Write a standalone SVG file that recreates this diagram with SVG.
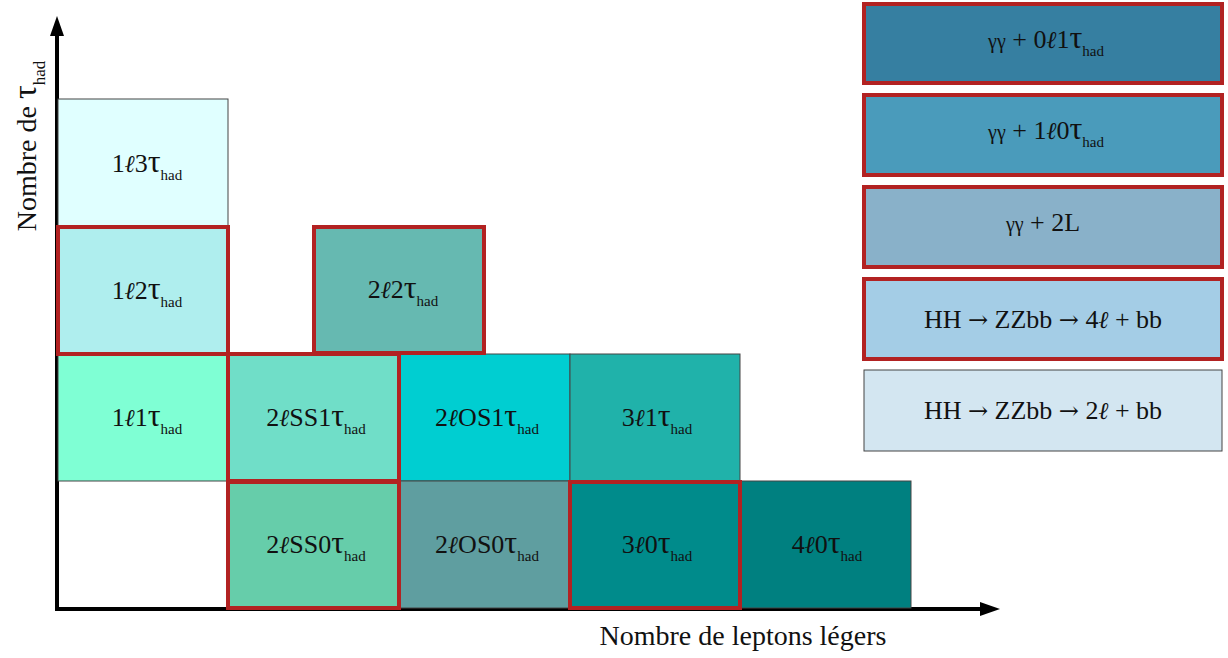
<svg xmlns="http://www.w3.org/2000/svg" width="1228" height="658" viewBox="0 0 1228 658">
<style>
text{font-family:"Liberation Serif","Times New Roman",serif;fill:#111;}
.lbl{font-size:26px;text-anchor:middle;}
.sub{font-size:15px;}
.t{font-size:32px;}
.l{font-family:"DejaVu Serif",serif;font-style:italic;font-size:24px;}
.ar{font-family:"DejaVu Serif",serif;font-size:24px;}
.gg{font-size:20px;}
.cell{stroke:#444;stroke-width:1;}
.red{stroke:#b22222;stroke-width:4;}
.ax{stroke:#000;stroke-width:4;fill:none;}
</style>
<defs>
<marker id="arr" markerWidth="20" markerHeight="14" refX="2" refY="7" orient="auto" markerUnits="userSpaceOnUse">
<path d="M0,0 L20,7 L0,14 Z" fill="#000"/>
</marker>
</defs>
<rect width="1228" height="658" fill="#fff"/>

<g id="axes">
<path class="ax" d="M57,610 L57,34" marker-end="url(#arr)"/>
<path class="ax" d="M55,609 L982,609" marker-end="url(#arr)"/>
</g>

<g id="c_1l3t"><rect class="cell" x="58" y="99" width="170" height="128" fill="#e0ffff"/><text class="lbl" x="147" y="172">1<tspan class="l">ℓ</tspan>3<tspan class="t">τ</tspan><tspan class="sub" dy="8">had</tspan></text></g>
<g id="c_1l1t"><rect class="cell" x="58" y="354" width="170" height="127" fill="#7fffd4"/><text class="lbl" x="147" y="426">1<tspan class="l">ℓ</tspan>1<tspan class="t">τ</tspan><tspan class="sub" dy="8">had</tspan></text></g>
<g id="c_2lOS1t"><rect class="cell" x="399" y="354" width="171" height="127" fill="#00ced1"/><text class="lbl" x="487" y="426">2<tspan class="l">ℓ</tspan>OS1<tspan class="t">τ</tspan><tspan class="sub" dy="8">had</tspan></text></g>
<g id="c_3l1t"><rect class="cell" x="570" y="354" width="170" height="127" fill="#20b2aa"/><text class="lbl" x="657" y="426">3<tspan class="l">ℓ</tspan>1<tspan class="t">τ</tspan><tspan class="sub" dy="8">had</tspan></text></g>
<g id="c_2lOS0t"><rect class="cell" x="399" y="481" width="171" height="127" fill="#5f9ea0"/><text class="lbl" x="487" y="553">2<tspan class="l">ℓ</tspan>OS0<tspan class="t">τ</tspan><tspan class="sub" dy="8">had</tspan></text></g>
<g id="c_4l0t"><rect class="cell" x="740" y="481" width="171" height="127" fill="#008080"/><text class="lbl" x="827" y="553">4<tspan class="l">ℓ</tspan>0<tspan class="t">τ</tspan><tspan class="sub" dy="8">had</tspan></text></g>

<g id="c_1l2t"><rect class="red" x="58" y="227" width="170" height="127" fill="#afeeee"/><text class="lbl" x="147" y="299">1<tspan class="l">ℓ</tspan>2<tspan class="t">τ</tspan><tspan class="sub" dy="8">had</tspan></text></g>
<g id="c_2l2t"><rect class="red" x="314" y="227" width="170" height="126" fill="#66b9b1"/><text class="lbl" x="403" y="298">2<tspan class="l">ℓ</tspan>2<tspan class="t">τ</tspan><tspan class="sub" dy="8">had</tspan></text></g>
<g id="c_2lSS1t"><rect class="red" x="228" y="354" width="171" height="127" fill="#70dec8"/><text class="lbl" x="316" y="426">2<tspan class="l">ℓ</tspan>SS1<tspan class="t">τ</tspan><tspan class="sub" dy="8">had</tspan></text></g>
<g id="c_2lSS0t"><rect class="red" x="228" y="482" width="171" height="126" fill="#66cdaa"/><text class="lbl" x="316" y="553">2<tspan class="l">ℓ</tspan>SS0<tspan class="t">τ</tspan><tspan class="sub" dy="8">had</tspan></text></g>
<g id="c_3l0t"><rect class="red" x="570" y="482" width="170" height="126" fill="#008b8b"/><text class="lbl" x="657" y="553">3<tspan class="l">ℓ</tspan>0<tspan class="t">τ</tspan><tspan class="sub" dy="8">had</tspan></text></g>

<g id="leg1"><rect class="red" x="864" y="4" width="358" height="79" fill="#367fa1"/><text class="lbl" x="1046" y="48"><tspan class="gg">γγ</tspan> + 0<tspan class="l">ℓ</tspan>1<tspan class="t">τ</tspan><tspan class="sub" dy="8">had</tspan></text></g>
<g id="leg2"><rect class="red" x="864" y="95" width="358" height="80" fill="#4a9bbb"/><text class="lbl" x="1046" y="139"><tspan class="gg">γγ</tspan> + 1<tspan class="l">ℓ</tspan>0<tspan class="t">τ</tspan><tspan class="sub" dy="8">had</tspan></text></g>
<g id="leg3"><rect class="red" x="864" y="187" width="358" height="80" fill="#89b1c9"/><text class="lbl" x="1043" y="231"><tspan class="gg">γγ</tspan> + 2L</text></g>
<g id="leg4"><rect class="red" x="864" y="279" width="358" height="80" fill="#a4cde6"/><text class="lbl" x="1043" y="328">HH <tspan class="ar">→</tspan> ZZbb <tspan class="ar">→</tspan> 4<tspan class="l">ℓ</tspan> + bb</text></g>
<g id="leg5"><rect class="cell" x="864" y="370" width="358" height="81" fill="#d3e6f1"/><text class="lbl" x="1043" y="419">HH <tspan class="ar">→</tspan> ZZbb <tspan class="ar">→</tspan> 2<tspan class="l">ℓ</tspan> + bb</text></g>

<g id="labels">
<text x="743" y="645" style="font-size:28px;text-anchor:middle">Nombre de leptons légers</text>
<text transform="translate(36,146) rotate(-90)" style="font-size:28px;text-anchor:middle">Nombre de <tspan style="font-size:34px">τ</tspan><tspan style="font-size:17px" dy="9">had</tspan></text>
</g>
</svg>
